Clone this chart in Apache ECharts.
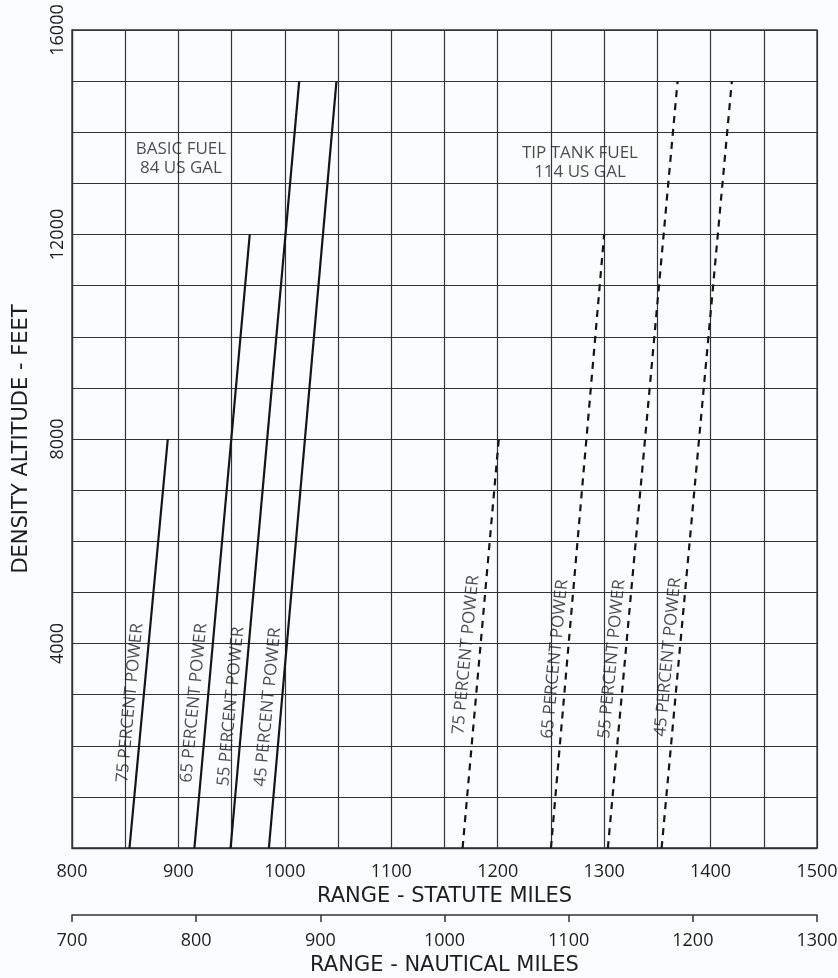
<!DOCTYPE html>
<html>
<head>
<meta charset="utf-8">
<script src="https://cdn.jsdelivr.net/npm/echarts@6/dist/echarts.min.js"></script>
<style>
html,body{margin:0;padding:0;background:#fbfcfd;}
#chart{width:838px;height:978px;}
</style>
</head>
<body>
<div id="chart"></div>
<script>
// ---- data (statute miles vs density altitude, feet) ----
const powerNames = ['75 PERCENT POWER', '65 PERCENT POWER', '55 PERCENT POWER', '45 PERCENT POWER'];
// basic fuel (84 US gal) - solid lines
const basicRangeSeaLevel = [854, 915, 949, 985];
const basicRangeTop = [890, 967, 1013.5, 1048.5];
const basicTopAltitude = [8000, 12000, 15000, 15000];
// tip tank fuel (114 US gal) - dashed lines
const tipRangeSeaLevel = [1167, 1250, 1303.5, 1354];
const tipRangeTop = [1201, 1300, 1369, 1420];
const tipTopAltitude = [8000, 12000, 15000, 15000];
// label anchor points (data coords)
const basicLabelRange = [854.5, 914.6, 949.4, 984];
const basicLabelAlt = [2836, 2836, 2770, 2757];
const tipLabelRange = [1170.2, 1253.8, 1307.3, 1360];
const tipLabelAlt = [3775, 3696, 3696, 3735];
const fuelNotes = [
  {text: 'BASIC FUEL\n84 US GAL', range: 902.4, alt: 13475},
  {text: 'TIP TANK FUEL\n114 US GAL', range: 1277.3, alt: 13397}
];
const statuteTicks = [800, 900, 1000, 1100, 1200, 1300, 1400, 1500];
const nauticalTicks = [700, 800, 900, 1000, 1100, 1200, 1300];
const altitudeTicks = [4000, 8000, 12000, 16000];

const FONT = "'Open Sans', 'DejaVu Sans', sans-serif";
const NAMEFONT = "'DejaVu Sans', 'Open Sans', sans-serif";
const INK = '#1e1e1e';
const GRIDC = '#333333';

const series = [];
powerNames.forEach((n, i) => {
  series.push({
    type: 'line', name: 'basic ' + n, xAxisIndex: 0, yAxisIndex: 0,
    data: [[basicRangeSeaLevel[i], 0], [basicRangeTop[i], basicTopAltitude[i]]],
    symbol: 'none', lineStyle: {color: '#151515', width: 2.2, type: 'solid'}, z: 5, silent: true
  });
  series.push({
    type: 'line', name: 'tip ' + n, xAxisIndex: 0, yAxisIndex: 0,
    data: [[tipRangeSeaLevel[i], 0], [tipRangeTop[i], tipTopAltitude[i]]],
    symbol: 'none', lineStyle: {color: '#151515', width: 2.2, type: [7, 6]}, z: 5, silent: true
  });
});
const labelData = [];
powerNames.forEach((n, i) => {
  labelData.push({name: n, value: [basicLabelRange[i], basicLabelAlt[i]]});
  labelData.push({name: n, value: [tipLabelRange[i], tipLabelAlt[i]]});
});
series.push({
  type: 'scatter', xAxisIndex: 0, yAxisIndex: 0, symbolSize: 0, silent: true, z: 6,
  data: labelData,
  label: {show: true, position: 'inside', rotate: 84.5, formatter: p => p.name,
    color: INK, fontFamily: FONT, fontSize: 17, align: 'center', verticalAlign: 'middle'}
});
series.push({
  type: 'scatter', xAxisIndex: 0, yAxisIndex: 0, symbolSize: 0, silent: true, z: 6,
  data: fuelNotes.map(f => ({name: f.text, value: [f.range, f.alt]})),
  label: {show: true, position: 'inside', formatter: p => p.name, lineHeight: 19,
    color: INK, fontFamily: FONT, fontSize: 17, align: 'center', verticalAlign: 'middle'}
});

const chart = echarts.init(document.getElementById('chart'), null, {renderer: 'canvas'});
chart.setOption({
  backgroundColor: '#fbfcfd',
  animation: false,
  grid: {left: 72, right: 21, top: 30, bottom: 130, show: true, borderColor: GRIDC, borderWidth: 1.3,
    backgroundColor: 'transparent', outerBoundsMode: 'none', containLabel: false},
  xAxis: [{
    type: 'value', min: 800, max: 1500, interval: 50, position: 'bottom',
    name: 'RANGE - STATUTE MILES', nameLocation: 'middle', nameGap: 33,
    nameTextStyle: {fontFamily: NAMEFONT, fontSize: 21, color: INK},
    axisLine: {show: true, lineStyle: {color: GRIDC, width: 1.3}},
    axisTick: {show: false},
    axisLabel: {margin: 15, fontFamily: FONT, fontSize: 18, color: INK,
      formatter: v => statuteTicks.includes(v) ? String(v) : ''},
    splitLine: {show: true, lineStyle: {color: GRIDC, width: 1.2}}
  }, {
    type: 'value', min: 700, max: 1300, interval: 100, position: 'bottom', offset: 67,
    name: 'RANGE - NAUTICAL MILES', nameLocation: 'middle', nameGap: 40,
    nameTextStyle: {fontFamily: NAMEFONT, fontSize: 21, color: INK},
    axisLine: {show: true, lineStyle: {color: GRIDC, width: 1.5}},
    axisTick: {show: true, length: 7, lineStyle: {color: GRIDC, width: 1.5}},
    axisLabel: {margin: 17, fontFamily: FONT, fontSize: 18, color: INK,
      formatter: v => nauticalTicks.includes(v) ? String(v) : ''},
    splitLine: {show: false}
  }],
  yAxis: [{
    type: 'value', min: 0, max: 16000, interval: 1000,
    name: 'DENSITY ALTITUDE - FEET', nameLocation: 'middle', nameGap: 40, nameRotate: 90,
    nameTextStyle: {fontFamily: NAMEFONT, fontSize: 21, color: INK},
    axisLine: {show: true, lineStyle: {color: GRIDC, width: 1.3}},
    axisTick: {show: false},
    axisLabel: {margin: 5, rotate: 90, fontFamily: FONT, fontSize: 18, color: INK,
      formatter: v => altitudeTicks.includes(v) ? String(v) : ''},
    splitLine: {show: true, lineStyle: {color: GRIDC, width: 1.2}}
  }],
  series: series
});
</script>
</body>
</html>
